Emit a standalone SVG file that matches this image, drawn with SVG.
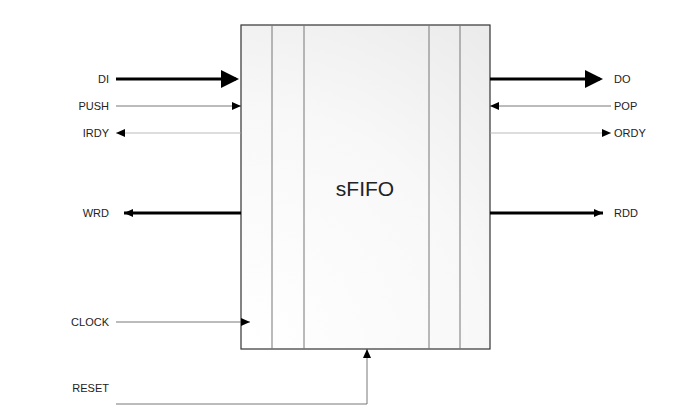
<svg xmlns="http://www.w3.org/2000/svg" width="700" height="418" viewBox="0 0 700 418">
<style>
text{font-family:"Liberation Sans",Arial,sans-serif;font-size:11px;fill:#222}
.l{text-anchor:end}
.thick{stroke:#000;stroke-width:3;fill:none}
.thin{stroke:#555;stroke-width:0.8;fill:none}
.faint{stroke:#aaa;stroke-width:0.8;fill:none}
.div{stroke:#777;stroke-width:1}
</style>
<defs>
<radialGradient id="g" cx="241" cy="349" r="400" gradientUnits="userSpaceOnUse">
<stop offset="0" stop-color="#ffffff"/><stop offset="0.6" stop-color="#f8f8f8"/><stop offset="1" stop-color="#ebebeb"/>
</radialGradient>
<marker id="big" markerWidth="6" markerHeight="6" refX="5" refY="3" orient="auto" markerUnits="strokeWidth"><path d="M0,0L6,3L0,6z" fill="#000"/></marker>
<marker id="sm" markerWidth="10" markerHeight="8" refX="9" refY="4" orient="auto" markerUnits="userSpaceOnUse"><path d="M0,0L9,4L0,8z" fill="#000"/></marker>
</defs>
<g id="sfifo">
<rect x="241" y="25" width="249" height="324" fill="url(#g)" stroke="#333" stroke-width="1.2"/>
<line class="div" x1="272" y1="25" x2="272" y2="349"/>
<line class="div" x1="304" y1="25" x2="304" y2="349" stroke="#bbb"/>
<line class="div" x1="429" y1="25" x2="429" y2="349"/>
<line class="div" x1="460" y1="25" x2="460" y2="349"/>
<text x="365" y="196" text-anchor="middle" style="font-size:21px">sFIFO</text>
</g>
<g id="connectors">
<line class="thick" x1="116" y1="79" x2="236" y2="79" marker-end="url(#big)"/>
<line class="thin" x1="116" y1="106" x2="241" y2="106" marker-end="url(#sm)"/>
<line class="faint" x1="241" y1="133" x2="116" y2="133" marker-end="url(#sm)"/>
<line class="thick" x1="241" y1="213" x2="124" y2="213" marker-end="url(#sm)"/>
<line class="thin" x1="116" y1="322" x2="250" y2="322" marker-end="url(#sm)"/>
<polyline class="thin" points="116,404 367,404 367,349" marker-end="url(#sm)"/>
<line class="thick" x1="490" y1="79" x2="600" y2="79" marker-end="url(#big)"/>
<line class="thin" x1="611" y1="106" x2="490" y2="106" marker-end="url(#sm)"/>
<line class="faint" x1="490" y1="133" x2="611" y2="133" marker-end="url(#sm)"/>
<line class="thick" x1="490" y1="213" x2="603" y2="213" marker-end="url(#sm)"/>
</g>
<g id="labels">
<text class="l" x="109" y="83">DI</text>
<text class="l" x="109" y="110">PUSH</text>
<text class="l" x="109" y="137">IRDY</text>
<text class="l" x="109" y="217">WRD</text>
<text class="l" x="109" y="326">CLOCK</text>
<text class="l" x="109" y="392">RESET</text>
<text x="614" y="83">DO</text>
<text x="614" y="110">POP</text>
<text x="614" y="137">ORDY</text>
<text x="614" y="217">RDD</text>
</g>
</svg>
